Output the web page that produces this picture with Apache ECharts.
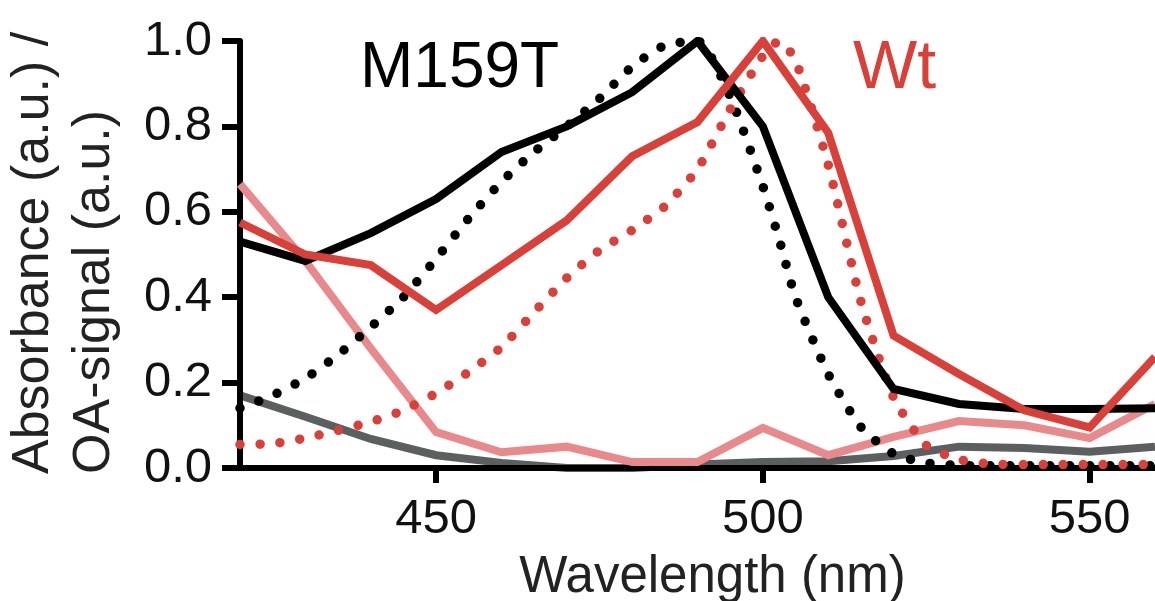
<!DOCTYPE html>
<html>
<head>
<meta charset="utf-8">
<script src="https://cdn.jsdelivr.net/npm/echarts@6/dist/echarts.min.js"></script>
<style>
  html, body { margin: 0; padding: 0; background: #fff; }
  #chart { width: 1155px; height: 601px; }
</style>
</head>
<body>
<div id="chart"></div>
<script>
  // solid lines, measured every 10 nm
  const wavelengths = [420, 430, 440, 450, 460, 470, 480, 490, 500, 510, 520, 530, 540, 550, 560];
  const m159tSolid = [0.53, 0.485, 0.55, 0.63, 0.74, 0.80, 0.88, 1.00, 0.80, 0.40, 0.185, 0.15, 0.138, 0.138, 0.14];
  const wtSolid = [0.575, 0.50, 0.475, 0.37, 0.475, 0.58, 0.73, 0.81, 1.00, 0.785, 0.31, 0.22, 0.135, 0.095, 0.26];
  const pinkSolid = [0.665, 0.485, 0.28, 0.084, 0.037, 0.05, 0.014, 0.014, 0.094, 0.03, 0.073, 0.11, 0.10, 0.07, 0.15];
  const graySolid = [0.17, 0.12, 0.068, 0.03, 0.012, 0.0, 0.0, 0.008, 0.014, 0.016, 0.028, 0.05, 0.047, 0.038, 0.05];

  // dotted curves, every 5 nm (plus the red peak)
  const oaWavelengths = [420, 425, 430, 435, 440, 445, 450, 455, 460, 465, 470, 475, 480, 485, 490, 495, 500, 502.5,
    505, 510, 515, 520, 525, 530, 535, 540, 545, 550, 555, 560];
  const m159tDotted = [0.14, 0.17, 0.21, 0.265, 0.33, 0.40, 0.49, 0.585, 0.67, 0.74, 0.80, 0.865, 0.94, 0.99, 1.00, 0.87, 0.66, 0.535,
    0.40, 0.22, 0.096, 0.033, 0.012, 0.006, 0.005, 0.005, 0.005, 0.005, 0.005, 0.005];
  const wtDotted = [0.055, 0.057, 0.07, 0.088, 0.108, 0.135, 0.175, 0.225, 0.283, 0.365, 0.445, 0.51, 0.557, 0.613, 0.70, 0.84, 0.965, 1.00,
    0.955, 0.71, 0.39, 0.165, 0.053, 0.02, 0.009, 0.008, 0.008, 0.008, 0.008, 0.008];

  const xTicks = [450, 500, 550];

  const FONT = "'Liberation Sans', Arial, Helvetica, sans-serif";
  const RED = '#d8403a';

  function pairs(xs, ys) {
    return xs.map((x, i) => [x, ys[i]]);
  }

  function solid(name, data, color, z) {
    return {
      name, type: 'line', data, z,
      symbol: 'none',
      lineStyle: { color, width: 8, join: 'miter' },
      emphasis: { disabled: true }
    };
  }

  function dotted(name, data, color, z) {
    return {
      name, type: 'line', data, z,
      symbol: 'none',
      smooth: 0.2,
      lineStyle: { color, width: 9.5, type: [0, 20], cap: 'round' },
      emphasis: { disabled: true }
    };
  }

  const chart = echarts.init(document.getElementById('chart'), null, { renderer: 'canvas' });

  chart.setOption({
    animation: false,
    backgroundColor: '#fff',
    grid: { left: 240, right: 0, top: 41, bottom: 133, containLabel: false, outerBoundsMode: 'none' },
    xAxis: {
      type: 'value',
      min: 420,
      max: 560,
      z: 1,
      axisLine: { lineStyle: { color: '#000', width: 6 } },
      axisTick: { customValues: xTicks, length: 15, lineStyle: { color: '#000', width: 6 } },
      axisLabel: { customValues: xTicks, fontSize: 49, fontFamily: FONT, color: '#111', margin: 27 },
      splitLine: { show: false },
      name: 'Wavelength (nm)',
      nameLocation: 'middle',
      nameGap: 84,
      nameTextStyle: { fontSize: 51, fontFamily: FONT, color: '#222', padding: [0, 0, 0, 30] }
    },
    yAxis: {
      type: 'value',
      min: 0,
      max: 1,
      interval: 0.2,
      z: 1,
      axisLine: { show: true, lineStyle: { color: '#000', width: 6 } },
      axisTick: { show: true, length: 18, lineStyle: { color: '#000', width: 6 } },
      axisLabel: { fontSize: 49, fontFamily: FONT, color: '#111', margin: 28, formatter: v => v.toFixed(1) },
      splitLine: { show: false }
    },
    graphic: [
      {
        type: 'text', x: 34, y: 474, rotation: Math.PI / 2,
        style: { text: 'Absorbance (a.u.) /', font: '52px ' + FONT, fill: '#222',
          align: 'left', textAlign: 'left', verticalAlign: 'middle', textVerticalAlign: 'middle' }
      },
      {
        type: 'text', x: 95, y: 474, rotation: Math.PI / 2,
        style: { text: 'OA-signal (a.u.)', font: '52px ' + FONT, fill: '#222',
          align: 'left', textAlign: 'left', verticalAlign: 'middle', textVerticalAlign: 'middle' }
      },
      {
        type: 'text', x: 360, y: 69,
        style: { text: 'M159T', font: '64px ' + FONT, fill: '#000',
          align: 'left', textAlign: 'left', verticalAlign: 'middle', textVerticalAlign: 'middle' }
      },
      {
        type: 'text', x: 853, y: 69,
        style: { text: 'Wt', font: '68px ' + FONT, fill: RED,
          align: 'left', textAlign: 'left', verticalAlign: 'middle', textVerticalAlign: 'middle' }
      }
    ],
    series: [
      solid('M159T grey', pairs(wavelengths, graySolid), '#5b5f60', 0),
      solid('Wt pink', pairs(wavelengths, pinkSolid), '#e8898c', 2),
      dotted('M159T dotted', pairs(oaWavelengths, m159tDotted), '#000', 2),
      dotted('Wt dotted', pairs(oaWavelengths, wtDotted), RED, 2),
      solid('M159T', pairs(wavelengths, m159tSolid), '#000', 2),
      solid('Wt', pairs(wavelengths, wtSolid), RED, 2)
    ]
  });
</script>
</body>
</html>
